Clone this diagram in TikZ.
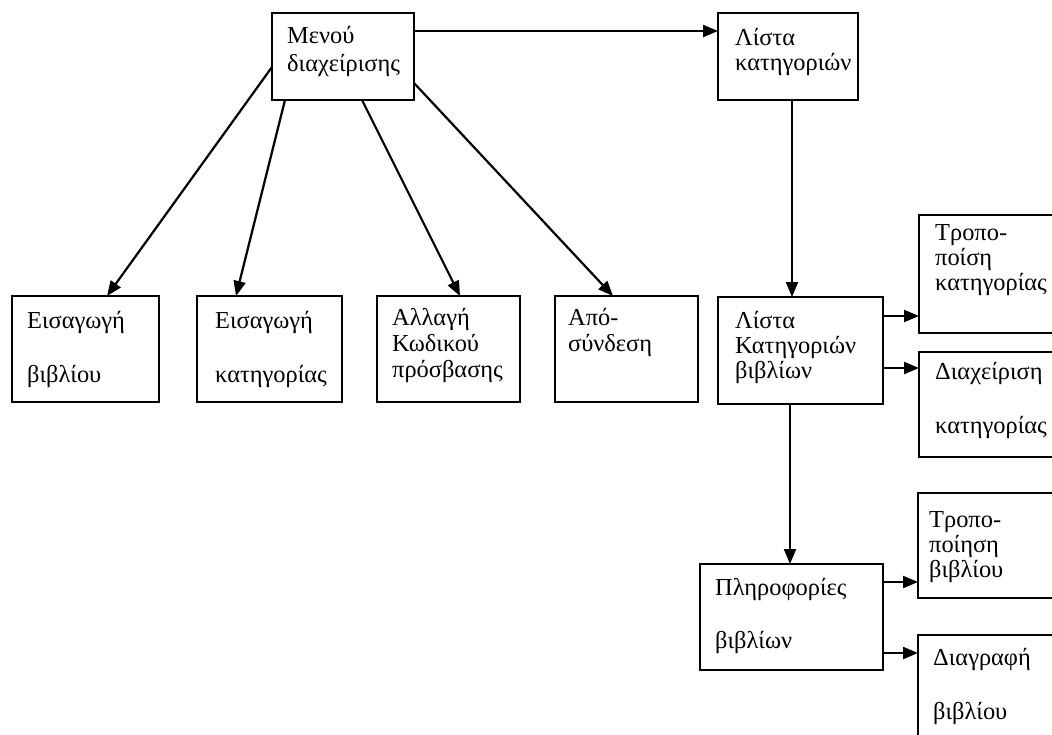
\documentclass[tikz,border=0pt]{standalone}
\usepackage{fontspec}
\setmainfont{Liberation Serif}
\usetikzlibrary{arrows.meta}
\tikzset{
  box/.style={draw, line width=2.2pt, rectangle, anchor=north west, inner sep=0pt, outer sep=0pt},
  txt/.style={anchor=base west, align=left, inner sep=0pt, font=\fontsize{24.4pt}{#1}\selectfont},
  txt/.default=26pt,
  arr/.style={line width=2.2pt, -{Triangle[length=15pt,width=12pt]}},
}
\begin{document}
\begin{tikzpicture}[x=1pt,y=-1pt]
\useasboundingbox (0,0) rectangle (1052,734);
\clip (0,0) rectangle (1052,734);
% boxes
\node[box, minimum width=142pt, minimum height=87pt] (menu) at (272,13) {};
\node[box, minimum width=140pt, minimum height=87pt] (lista) at (718,13) {};
\node[box, minimum width=147pt, minimum height=106pt] (b1) at (12,296) {};
\node[box, minimum width=145pt, minimum height=106pt] (b2) at (197,296) {};
\node[box, minimum width=143pt, minimum height=106pt] (b3) at (377,296) {};
\node[box, minimum width=143pt, minimum height=106pt] (b4) at (555,296) {};
\node[box, minimum width=165pt, minimum height=107pt] (lkv) at (718,297) {};
\node[box, minimum width=200pt, minimum height=118pt] (tpk) at (919,215) {};
\node[box, minimum width=200pt, minimum height=105pt] (dk) at (919,352) {};
\node[box, minimum width=183pt, minimum height=106pt] (pl) at (700,564) {};
\node[box, minimum width=200pt, minimum height=105pt] (tpv) at (918,493) {};
\node[box, minimum width=200pt, minimum height=200pt] (dv) at (918,635) {};
% texts (anchored at the baseline of the last line)
\node[txt=28pt] (tmenu) at (287,71) {Μενού\\διαχείρισης};
\node[txt=25pt] (tlista) at (735,70) {Λίστα\\κατηγοριών};
\node[txt] (tb1) at (27,382) {Εισαγωγή\\[28pt]βιβλίου};
\node[txt] (tb2) at (215,382) {Εισαγωγή\\[28pt]κατηγορίας};
\node[txt] (tb3) at (392,377) {Αλλαγή\\Κωδικού\\πρόσβασης};
\node[txt] (tb4) at (568,351) {Από-\\σύνδεση};
\node[txt=25pt] (tlkv) at (735,378) {Λίστα\\Κατηγοριών\\βιβλίων};
\node[txt=25pt] (ttpk) at (935,290) {Τροπο-\\ποίση\\κατηγορίας};
\node[txt] (tdk) at (935,433) {Διαχείριση\\[28pt]κατηγορίας};
\node[txt] (tpl) at (715,648) {Πληροφορίες\\[27pt]βιβλίων};
\node[txt=25pt] (ttpv) at (929,577) {Τροπο-\\ποίηση\\βιβλίου};
\node[txt] (tdv) at (933,719) {Διαγραφή\\[28pt]βιβλίου};
% connectors
\draw[arr] ([yshift=-18pt]menu.north east) -- ([yshift=-18pt]lista.north west);
\draw[arr] ([yshift=-54pt]menu.north west) -- ([xshift=95pt]b1.north west);
\draw[arr] ([xshift=13pt]menu.south west) -- ([xshift=39pt]b2.north west);
\draw[arr] ([xshift=90pt]menu.south west) -- ([xshift=83pt]b3.north west);
\draw[arr] ([yshift=17pt]menu.south east) -- ([xshift=58pt]b4.north west);
\draw[arr] ([xshift=74pt]lista.south west) -- ([xshift=74pt]lkv.north west);
\draw[arr] ([xshift=72pt]lkv.south west) -- ([xshift=90pt]pl.north west);
\draw[arr] ([yshift=-19pt]lkv.north east) -- ([yshift=17pt]tpk.south west);
\draw[arr] ([yshift=-71pt]lkv.north east) -- ([yshift=-16pt]dk.north west);
\draw[arr] ([yshift=-18pt]pl.north east) -- ([yshift=16pt]tpv.south west);
\draw[arr] ([yshift=-89pt]pl.north east) -- ([yshift=-18pt]dv.north west);
\end{tikzpicture}
\end{document}
